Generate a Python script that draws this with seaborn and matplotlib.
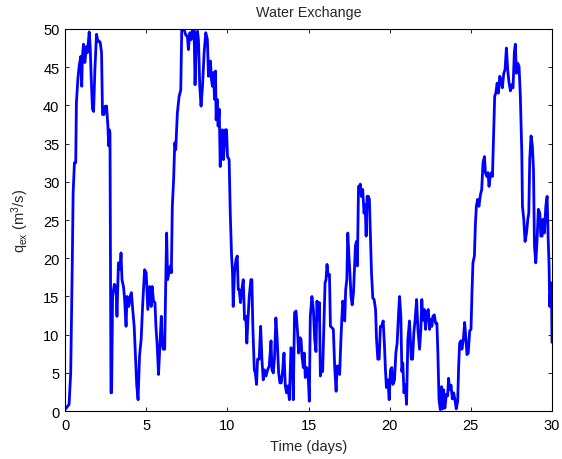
import numpy as np
import pandas as pd
import matplotlib
matplotlib.use("Agg")
import matplotlib.pyplot as plt
import seaborn as sns

# ==========================
# values
time_days = [
    0.00, 0.25, 0.35, 0.45, 0.50, 0.58, 0.66, 0.70, 0.79, 0.87, 0.97, 1.03, 1.07, 1.14,
    1.22, 1.32, 1.38, 1.49, 1.55, 1.61, 1.69, 1.76, 1.84, 1.94, 2.02, 2.11, 2.17, 2.25,
    2.31, 2.40, 2.48, 2.56, 2.64, 2.69, 2.73, 2.77, 2.83, 2.87, 2.93, 3.04, 3.14, 3.20,
    3.29, 3.39, 3.45, 3.51, 3.60, 3.66, 3.76, 3.82, 3.93, 4.01, 4.09, 4.17, 4.26, 4.34,
    4.42, 4.50, 4.59, 4.69, 4.79, 4.90, 5.00, 5.10, 5.21, 5.31, 5.37, 5.45, 5.54, 5.60,
    5.68, 5.76, 5.85, 5.93, 5.99, 6.05, 6.14, 6.20, 6.26, 6.32, 6.40, 6.49, 6.55, 6.61,
    6.69, 6.76, 6.82, 6.92, 7.03, 7.13, 7.19, 7.34, 7.44, 7.54, 7.60, 7.69, 7.77, 7.85,
    7.95, 8.01, 8.10, 8.16, 8.22, 8.30, 8.38, 8.47, 8.57, 8.67, 8.77, 8.84, 8.90, 8.96,
    9.02, 9.08, 9.15, 9.21, 9.27, 9.31, 9.37, 9.43, 9.50, 9.56, 9.62, 9.70, 9.76, 9.87,
    9.95, 10.01, 10.11, 10.18, 10.26, 10.32, 10.36, 10.44, 10.53, 10.61, 10.67, 10.73,
    10.81, 10.87, 10.98, 11.06, 11.14, 11.20, 11.27, 11.35, 11.45, 11.51, 11.57, 11.66,
    11.72, 11.80, 11.86, 11.96, 12.05, 12.13, 12.21, 12.29, 12.38, 12.48, 12.58, 12.69,
    12.75, 12.83, 12.91, 12.99, 13.07, 13.16, 13.24, 13.32, 13.41, 13.49, 13.57, 13.65,
    13.73, 13.82, 13.92, 14.00, 14.06, 14.14, 14.23, 14.33, 14.39, 14.48, 14.54, 14.60,
    14.68, 14.74, 14.80, 14.89, 14.97, 15.05, 15.11, 15.21, 15.30, 15.38, 15.46, 15.52,
    15.61, 15.67, 15.73, 15.81, 15.87, 15.96, 16.02, 16.08, 16.14, 16.21, 16.29, 16.35,
    16.45, 16.53, 16.61, 16.70, 16.76, 16.84, 16.92, 16.98, 17.05, 17.11, 17.17, 17.23,
    17.29, 17.36, 17.42, 17.48, 17.55, 17.62, 17.69, 17.77, 17.83, 17.89, 17.95, 18.01,
    18.08, 18.14, 18.19, 18.26, 18.34, 18.42, 18.49, 18.55, 18.61, 18.69, 18.75, 18.82,
    18.88, 18.96, 19.04, 19.13, 19.19, 19.27, 19.35, 19.43, 19.51, 19.60, 19.68, 19.74,
    19.80, 19.89, 19.97, 20.05, 20.13, 20.20, 20.30, 20.38, 20.46, 20.55, 20.61, 20.69,
    20.75, 20.81, 20.88, 20.96, 21.04, 21.12, 21.22, 21.33, 21.41, 21.49, 21.57, 21.66,
    21.74, 21.84, 21.92, 21.98, 22.05, 22.13, 22.21, 22.29, 22.38, 22.46, 22.52, 22.60,
    22.66, 22.75, 22.83, 22.91, 22.97, 23.04, 23.12, 23.20, 23.26, 23.32, 23.40, 23.49,
    23.57, 23.63, 23.69, 23.78, 23.86, 23.94, 24.02, 24.10, 24.19, 24.25, 24.31, 24.39,
    24.45, 24.54, 24.62, 24.70, 24.76, 24.84, 24.93, 25.01, 25.07, 25.13, 25.22, 25.28,
    25.34, 25.42, 25.50, 25.59, 25.67, 25.75, 25.84, 25.90, 25.98, 26.06, 26.12, 26.19,
    26.27, 26.33, 26.40, 26.47, 26.54, 26.62, 26.70, 26.78, 26.86, 26.94, 27.03, 27.11,
    27.19, 27.27, 27.35, 27.44, 27.52, 27.60, 27.68, 27.74, 27.81, 27.89, 27.97, 28.05,
    28.14, 28.18, 28.26, 28.34, 28.43, 28.51, 28.57, 28.63, 28.71, 28.79, 28.86, 28.92,
    29.00, 29.08, 29.16, 29.25, 29.31, 29.39, 29.45, 29.53, 29.62, 29.70, 29.76, 29.82,
    29.86, 29.93, 29.97, 30.00,
]
q_ex = [
    0.2, 0.9, 5.0, 19.8, 28.6, 32.5, 32.5, 40.3, 43.4, 45.1, 46.4, 42.5, 46.4, 48.0,
    45.6, 47.7, 46.9, 49.6, 47.7, 43.8, 39.5, 39.2, 44.7, 49.3, 48.4, 48.4, 48.2, 46.9,
    38.8, 38.8, 39.9, 39.9, 37.3, 34.7, 36.8, 36.4, 2.4, 2.4, 15.0, 16.6, 16.3, 12.4,
    19.4, 18.5, 20.7, 17.2, 16.3, 15.0, 11.1, 15.0, 13.7, 15.0, 15.5, 13.3, 11.1, 7.2,
    3.3, 1.5, 7.2, 9.4, 14.2, 18.5, 18.1, 13.3, 16.3, 13.7, 16.3, 14.4, 14.2, 11.1,
    8.5, 4.8, 8.9, 12.4, 8.9, 8.1, 8.1, 16.3, 23.3, 17.2, 18.1, 19.0, 18.1, 26.8,
    30.3, 35.1, 34.2, 39.0, 41.2, 42.0, 49.9, 49.9, 49.2, 49.0, 47.3, 49.5, 48.6, 49.9,
    50.0, 42.7, 49.5, 49.7, 48.6, 42.5, 39.9, 42.5, 46.9, 49.5, 48.6, 43.8, 45.5, 45.8,
    43.4, 42.5, 44.3, 40.8, 44.5, 38.1, 40.8, 37.3, 39.5, 32.0, 36.4, 36.8, 32.9, 36.8,
    36.8, 33.3, 32.9, 25.9, 20.3, 18.1, 13.7, 18.1, 19.8, 20.3, 15.9, 15.9,
    14.2, 15.5, 17.2, 12.0, 12.4, 8.9, 12.0, 15.0, 17.2, 17.2, 11.1, 5.4,
    5.0, 3.5, 6.8, 6.8, 11.1, 6.8, 4.1, 5.4, 4.6, 5.4, 5.9, 9.2,
    5.4, 5.0, 7.2, 12.2, 9.4, 5.0, 3.7, 3.7, 5.4, 7.6, 3.3, 2.4,
    3.3, 1.5, 8.3, 7.6, 1.5, 12.9, 13.1, 10.2, 7.6, 9.6, 9.4, 7.2,
    5.7, 7.6, 4.4, 5.7, 5.0, 1.3, 12.4, 15.0, 13.3, 9.4, 7.8, 14.4,
    12.0, 14.2, 4.6, 5.9, 5.2, 12.0, 16.8, 17.2, 19.2, 17.7, 17.9, 11.1,
    10.9, 10.7, 5.9, 2.6, 5.9, 5.9, 4.8, 8.5, 12.0, 14.4, 13.7, 11.8,
    15.9, 17.2, 23.3, 20.7, 18.1, 15.0, 13.9, 15.5, 18.7, 21.6, 22.2, 19.0,
    29.4, 29.4, 29.7, 28.1, 29.0, 25.9, 27.0, 22.9, 28.1, 28.1, 27.7, 22.4,
    18.1, 14.8, 14.6, 13.3, 9.4, 6.8, 6.8, 11.1, 11.1, 11.8, 8.5, 5.4,
    3.1, 4.1, 1.5, 5.4, 5.7, 3.5, 4.1, 7.6, 8.9, 12.9, 15.0, 12.4,
    5.2, 6.3, 2.4, 3.5, 0.9, 9.4, 11.8, 6.8, 6.8, 10.3, 12.0, 14.6,
    10.7, 8.1, 10.7, 14.6, 11.9, 13.3, 10.7, 12.9, 13.3, 10.7, 12.0, 11.1,
    12.4, 12.6, 11.5, 11.5, 7.6, 1.5, 0.2, 3.2, 0.3, 2.8, 0.4, 2.2,
    2.0, 4.3, 2.8, 3.4, 1.6, 2.4, 1.5, 0.3, 1.3, 5.9, 8.9, 9.2,
    8.1, 9.4, 11.6, 9.4, 7.4, 7.6, 10.5, 10.7, 15.5, 19.4, 20.3, 24.4,
    26.8, 27.7, 26.8, 28.3, 29.0, 32.5, 33.3, 31.2, 30.7, 31.2, 29.4, 30.7,
    31.2, 30.7, 36.0, 41.2, 41.6, 42.9, 41.6, 43.8, 43.4, 42.3, 44.2, 44.7,
    47.5, 44.7, 43.0, 41.9, 42.7, 42.3, 46.9, 48.0, 44.2, 45.5, 45.1, 41.2,
    33.8, 26.8, 25.1, 22.2, 23.3, 25.1, 25.9, 33.0, 36.0, 34.7, 31.6, 21.6,
    19.4, 22.4, 26.4, 25.9, 22.9, 22.9, 25.1, 23.3, 26.8, 28.1, 22.9, 19.0,
    13.7, 16.8, 15.5, 9.0,
]
x_ticks = [0, 5, 10, 15, 20, 25, 30]
y_ticks = [0, 5, 10, 15, 20, 25, 30, 35, 40, 45, 50]

df = pd.DataFrame({"time": time_days, "q": q_ex})

# =====================
# matlab-ish plot setup
sns.set_style("ticks")
plt.rcParams['font.family'] = ['Liberation Sans', 'DejaVu Sans']
plt.rcParams['mathtext.fontset'] = 'custom'
plt.rcParams['mathtext.rm'] = 'Liberation Sans'
plt.rcParams['mathtext.it'] = 'Liberation Sans'

fig = plt.figure(figsize=(5.62, 4.60), dpi=100)
ax = fig.add_axes([0.1157, 0.104, 0.8665, 0.831])

sns.lineplot(data=df, x="time", y="q", color="#0000FF", linewidth=2.0,
             sort=False, estimator=None, ax=ax)

ax.set_xlim(0, 30)
ax.set_ylim(0, 50)
ax.set_xticks(x_ticks)
ax.set_yticks(y_ticks)
ax.tick_params(direction="in", top=True, right=True, length=3, width=0.6,
               labelsize=10.5, colors="black")
ax.tick_params(axis="x", pad=5)
ax.tick_params(axis="y", pad=4)
for s in ax.spines.values():
    s.set_linewidth(0.8)
    s.set_color("black")

ax.set_title("Water Exchange", fontsize=10.3, pad=9)
ax.set_xlabel("Time (days)", fontsize=10.5, labelpad=5)
ax.set_ylabel(r"q$_{ex}$ (m$^3$/s)", fontsize=10.5, labelpad=9)

fig.savefig("out.png", dpi=100)
